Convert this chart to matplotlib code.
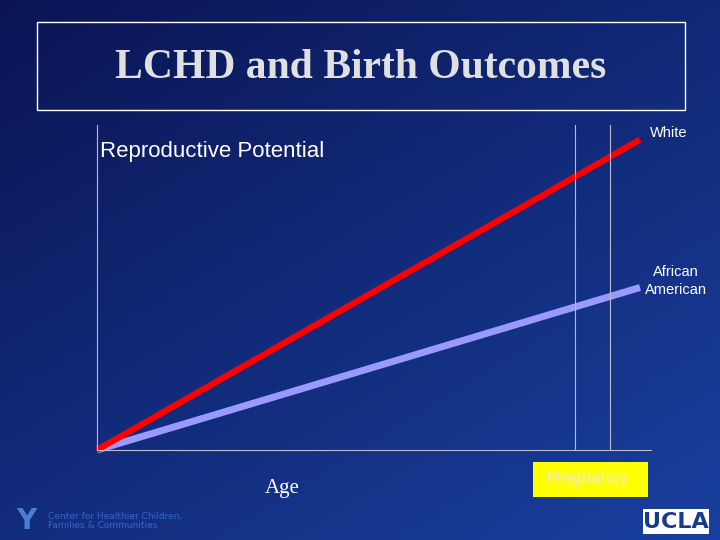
import numpy as np
import matplotlib
matplotlib.use("Agg")
import matplotlib.pyplot as plt
from matplotlib.patches import Rectangle

# Data (relative age 0..1 -> reproductive potential 0..1)
age = [0.0, 1.0]
white = [0.0, 0.955]
african_american = [0.0, 0.50]
pregnancy_lines = [0.88, 0.945]

fig = plt.figure(figsize=(7.2, 5.4), dpi=100)
bg = fig.add_axes([0, 0, 1, 1])
bg.set_xlim(0, 720); bg.set_ylim(540, 0); bg.axis("off")
yy, xx = np.mgrid[0:540, 0:720]
t = np.clip(0.55 * yy / 540 + 0.45 * xx / 720, 0, 1)
c0 = np.array([0.04, 0.08, 0.33]); c1 = np.array([0.10, 0.25, 0.62])
img = c0 + (c1 - c0) * t[..., None]
bg.imshow(img, extent=(0, 720, 540, 0), aspect="auto", zorder=0)
bg.add_patch(Rectangle((37, 22), 648, 88, fill=False, ec="white", lw=1, zorder=2))
bg.text(361, 68, "LCHD and Birth Outcomes", color="#e0e0e0", fontsize=30,
        family="Liberation Serif", fontweight="bold", ha="center", va="center")
bg.text(100, 152, "Reproductive Potential", color="white", fontsize=16,
        family="Liberation Sans", va="center")
bg.text(650, 133, "White", color="white", fontsize=10.5, family="Liberation Sans",
        va="center")
bg.text(676, 281, "African\nAmerican", color="white", fontsize=10.5, va="center",
        family="Liberation Sans", ha="center", linespacing=1.3)
bg.text(282, 488, "Age", color="white", fontsize=15, family="Liberation Serif",
        ha="center", va="center")
bg.add_patch(Rectangle((533, 462), 115, 35, fc="#ffff00", ec="none", zorder=2))
bg.text(588, 478, "Pregnancy", color="#f0f0a0", fontsize=11.5, fontweight="bold",
        family="Liberation Sans", ha="center", va="center", zorder=3)
bg.text(48, 521, "Center for Healthier Children,\nFamilies & Communities",
        color="#3366cc", fontsize=6.5, va="center", linespacing=1.0)
bg.text(26, 521, "Y", color="#4a7fd0", fontsize=20, fontweight="bold",
        ha="center", va="center")
bg.add_patch(Rectangle((643, 509), 66, 25, fc="white", ec="none", zorder=2))
bg.text(676, 522, "UCLA", color="#1a3a8c", fontsize=16, fontweight="bold",
        ha="center", va="center", zorder=3)

ax = fig.add_axes([97/720, 1 - 450/540, (640 - 97)/720, (450 - 125)/540])
ax.patch.set_alpha(0)
ax.set_xlim(0, 1); ax.set_ylim(0, 1)
ax.plot(age, african_american, color="#9999ff", lw=5, solid_capstyle="butt", clip_on=False)
ax.plot(age, white, color="#ff0000", lw=4.5, solid_capstyle="butt", clip_on=False)
for x in pregnancy_lines:
    ax.axvline(x, color="#bbbbcc", lw=0.8)
for s in ["top", "right"]:
    ax.spines[s].set_visible(False)
ax.spines["left"].set_color("#bbbbcc"); ax.spines["bottom"].set_color("#bbbbcc")
ax.spines["bottom"].set_bounds(0, 1.02)
ax.set_xticks([]); ax.set_yticks([])
fig.savefig("out.png", dpi=100)
